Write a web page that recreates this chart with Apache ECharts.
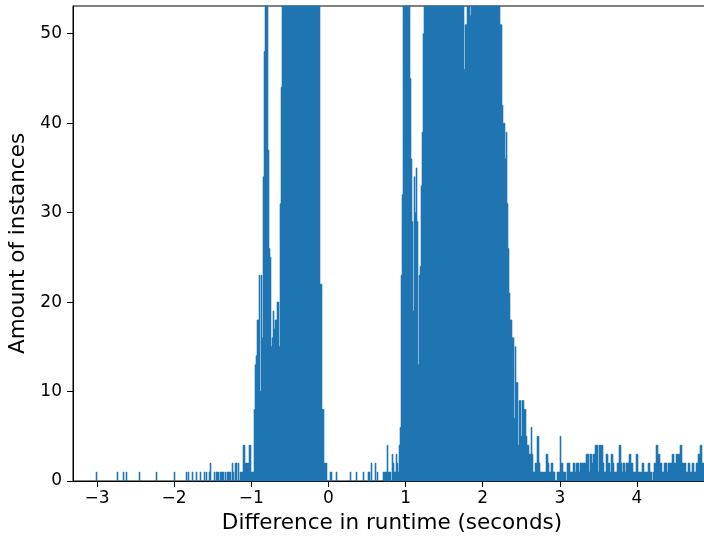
<!DOCTYPE html>
<html>
<head>
<meta charset="utf-8">
<script src="https://cdn.jsdelivr.net/npm/echarts@6/dist/echarts.min.js"></script>
<style>
  html, body { margin: 0; padding: 0; background: #fff; }
  #chart { width: 704px; height: 540px; }
</style>
</head>
<body>
<div id="chart"></div>
<script>
// ---- Data (histogram) ----
// Bins share one grid: bin k spans [binOrigin + k*binWidth, binOrigin + (k+1)*binWidth]
const binOrigin = -3.0127;
const binWidth = 0.012964;

// sparse left tail: [bin index, count]
const leftTail = [[0,1],[21,1],[27,1],[30,1],[43,1],[60,1],[78,1],[90,1],[92,1],[96,1],[100,1],[104,1],
  [108,1],[110,1],[113,1],[114,2],[118,1],[120,1],[121,1],[122,1],[124,1],[125,1],[126,1],[127,1],[129,1],
  [131,1],[132,1],[133,1],[134,1],[136,2],[137,1],[139,2],[140,2],[142,2],[144,1],[145,1],[146,1],[147,4],
  [148,4],[149,2],[150,2],[151,2],[152,2],[153,4],[154,4],[155,1],[156,1],[157,1]];

// left peak: contiguous counts starting at bin 158
const leftPeakStart = 158;
const leftPeak = [8,13,14,18,18,23,10,23,16,34,48,58,62,57,37,26,25,15,16,19,17,18,18,20,20,15,31,44,
  58,61,66,64,70,68,73,71,76,74,79,77,81,78,83,80,84,82,85,83,82,84,80,81,78,79,75,76,72,73,69,70,66,64,61,59,57,55,
  22,22,8,8,2,2,2];

// sparse gap between peaks: [bin index, count]
const middleGap = [[234,1],[235,1],[240,1],[254,1],[260,1],[267,1],[272,1],[273,1],[275,2],[279,2],[281,1],
  [287,1],[288,1],[289,1]];

// right peak: contiguous counts starting at bin 290
const rightPeakStart = 290;
const rightPeak = [1,4,1,1,1,0,3,2,1,1,3,2,1,4,6,23,32,
  58,63,61,59,57,55,56,
  45,36,29,19,34,30,35,29,13,23,24,33,39,50,
  55,58,60,57,62,61,64,63,66,62,65,68,64,67,70,66,69,71,68,72,70,73,69,71,74,70,72,68,71,73,69,70,72,67,70,68,66,64,62,60,
  46,51,51,58,56,59,52,
  66,68,70,67,71,69,72,70,73,68,71,69,72,70,68,71,67,69,66,68,64,66,63,65,61,60,58,57,55,
  51,51,42,40,40,36,39,31,26,21,18,18,16,16,7,15,11,11,4,9,9,5,9,9,8,8,5,4,4,3,
  3,6,3,1,1,2,2,5,5,2,1,1,1,1,1,1,3,3,2,1,1,2,2,1,1,0,0,1,1,1,5];

// right tail: contiguous counts starting at bin 465
const rightTailStart = 465;
const rightTail = [2,2,1,1,1,0,2,2,2,1, 1,1,2,2,1,2,2,2,1,2, 2,2,2,2,2,3,3,3,1,3, 3,2,3,3,4,4,4,1,4,4,
  4,4,2,1,1,3,3,2,2,1, 3,3,2,1,1,1,2,2,4,4, 2,1,2,2,1,2,2,2,3,3, 2,2,1,1,1,3,3,1,1,1,
  1,2,2,1,1,1,1,2,2,1, 1,0,1,2,2,4,4,3,3,2, 2,1,1,2,2,2,1,2,2,2, 2,3,3,2,2,3,3,3,3,4,
  4,2,2,2,2,1,1,2,2,1, 1,2,2,1,1,2,2,3,3,4, 4,2,2];

const xTicks = [-3, -2, -1, 0, 1, 2, 3, 4];
const yTicks = [0, 10, 20, 30, 40, 50];
const xLabel = 'Difference in runtime (seconds)';
const yLabel = 'Amount of instances';

// ---- build histogram items ----
const bins = [];
function addBin(k, n) {
  if (n > 0) bins.push([binOrigin + k * binWidth, binOrigin + (k + 1) * binWidth, n]);
}
leftTail.forEach(p => addBin(p[0], p[1]));
leftPeak.forEach((n, i) => addBin(leftPeakStart + i, n));
middleGap.forEach(p => addBin(p[0], p[1]));
rightPeak.forEach((n, i) => addBin(rightPeakStart + i, n));
rightTail.forEach((n, i) => addBin(rightTailStart + i, n));

function renderItem(params, api) {
  const a = api.coord([api.value(0), 0]);
  const b = api.coord([api.value(1), api.value(2)]);
  const cs = params.coordSys;
  const r = echarts.graphic.clipRectByRect(
    { x: a[0], y: b[1], width: b[0] - a[0], height: a[1] - b[1] },
    { x: cs.x, y: cs.y, width: cs.width, height: cs.height }
  );
  return r && { type: 'rect', shape: r, style: { fill: '#1f77b4', stroke: '#1f77b4', lineWidth: 0.6 } };
}

const font = 'DejaVu Sans';
const fmt = v => String(v).replace('-', '\u2212');

const chart = echarts.init(document.getElementById('chart'), null, { renderer: 'canvas' });
chart.setOption({
  animation: false,
  backgroundColor: '#ffffff',
  grid: {
    left: 73, top: 6, width: 638, height: 475,
    outerBoundsMode: 'none', containLabel: false,
    show: true, borderColor: '#000', borderWidth: 1, backgroundColor: 'transparent'
  },
  xAxis: {
    type: 'value', min: -3.311, max: 4.96,
    name: xLabel, nameLocation: 'middle', nameGap: 31,
    nameTextStyle: { fontFamily: font, fontSize: 21.5, color: '#000' },
    axisLine: { show: true, onZero: false, lineStyle: { color: '#000', width: 1 } },
    axisTick: { show: true, length: 6, lineStyle: { color: '#000', width: 1 }, customValues: xTicks },
    axisLabel: { fontFamily: font, fontSize: 17, color: '#000', margin: 9, customValues: xTicks, formatter: fmt },
    splitLine: { show: false }
  },
  yAxis: {
    type: 'value', min: 0, max: 53.1,
    name: yLabel, nameLocation: 'middle', nameGap: 41, nameRotate: 90,
    nameTextStyle: { fontFamily: font, fontSize: 21.5, color: '#000' },
    axisLine: { show: true, onZero: false, lineStyle: { color: '#000', width: 1 } },
    axisTick: { show: true, length: 6, lineStyle: { color: '#000', width: 1 }, customValues: yTicks },
    axisLabel: { fontFamily: font, fontSize: 17, color: '#000', margin: 11, customValues: yTicks, formatter: fmt },
    splitLine: { show: false }
  },
  series: [{
    type: 'custom',
    renderItem: renderItem,
    encode: { x: [0, 1], y: 2 },
    data: bins,
    silent: true
  }]
});
</script>
</body>
</html>
